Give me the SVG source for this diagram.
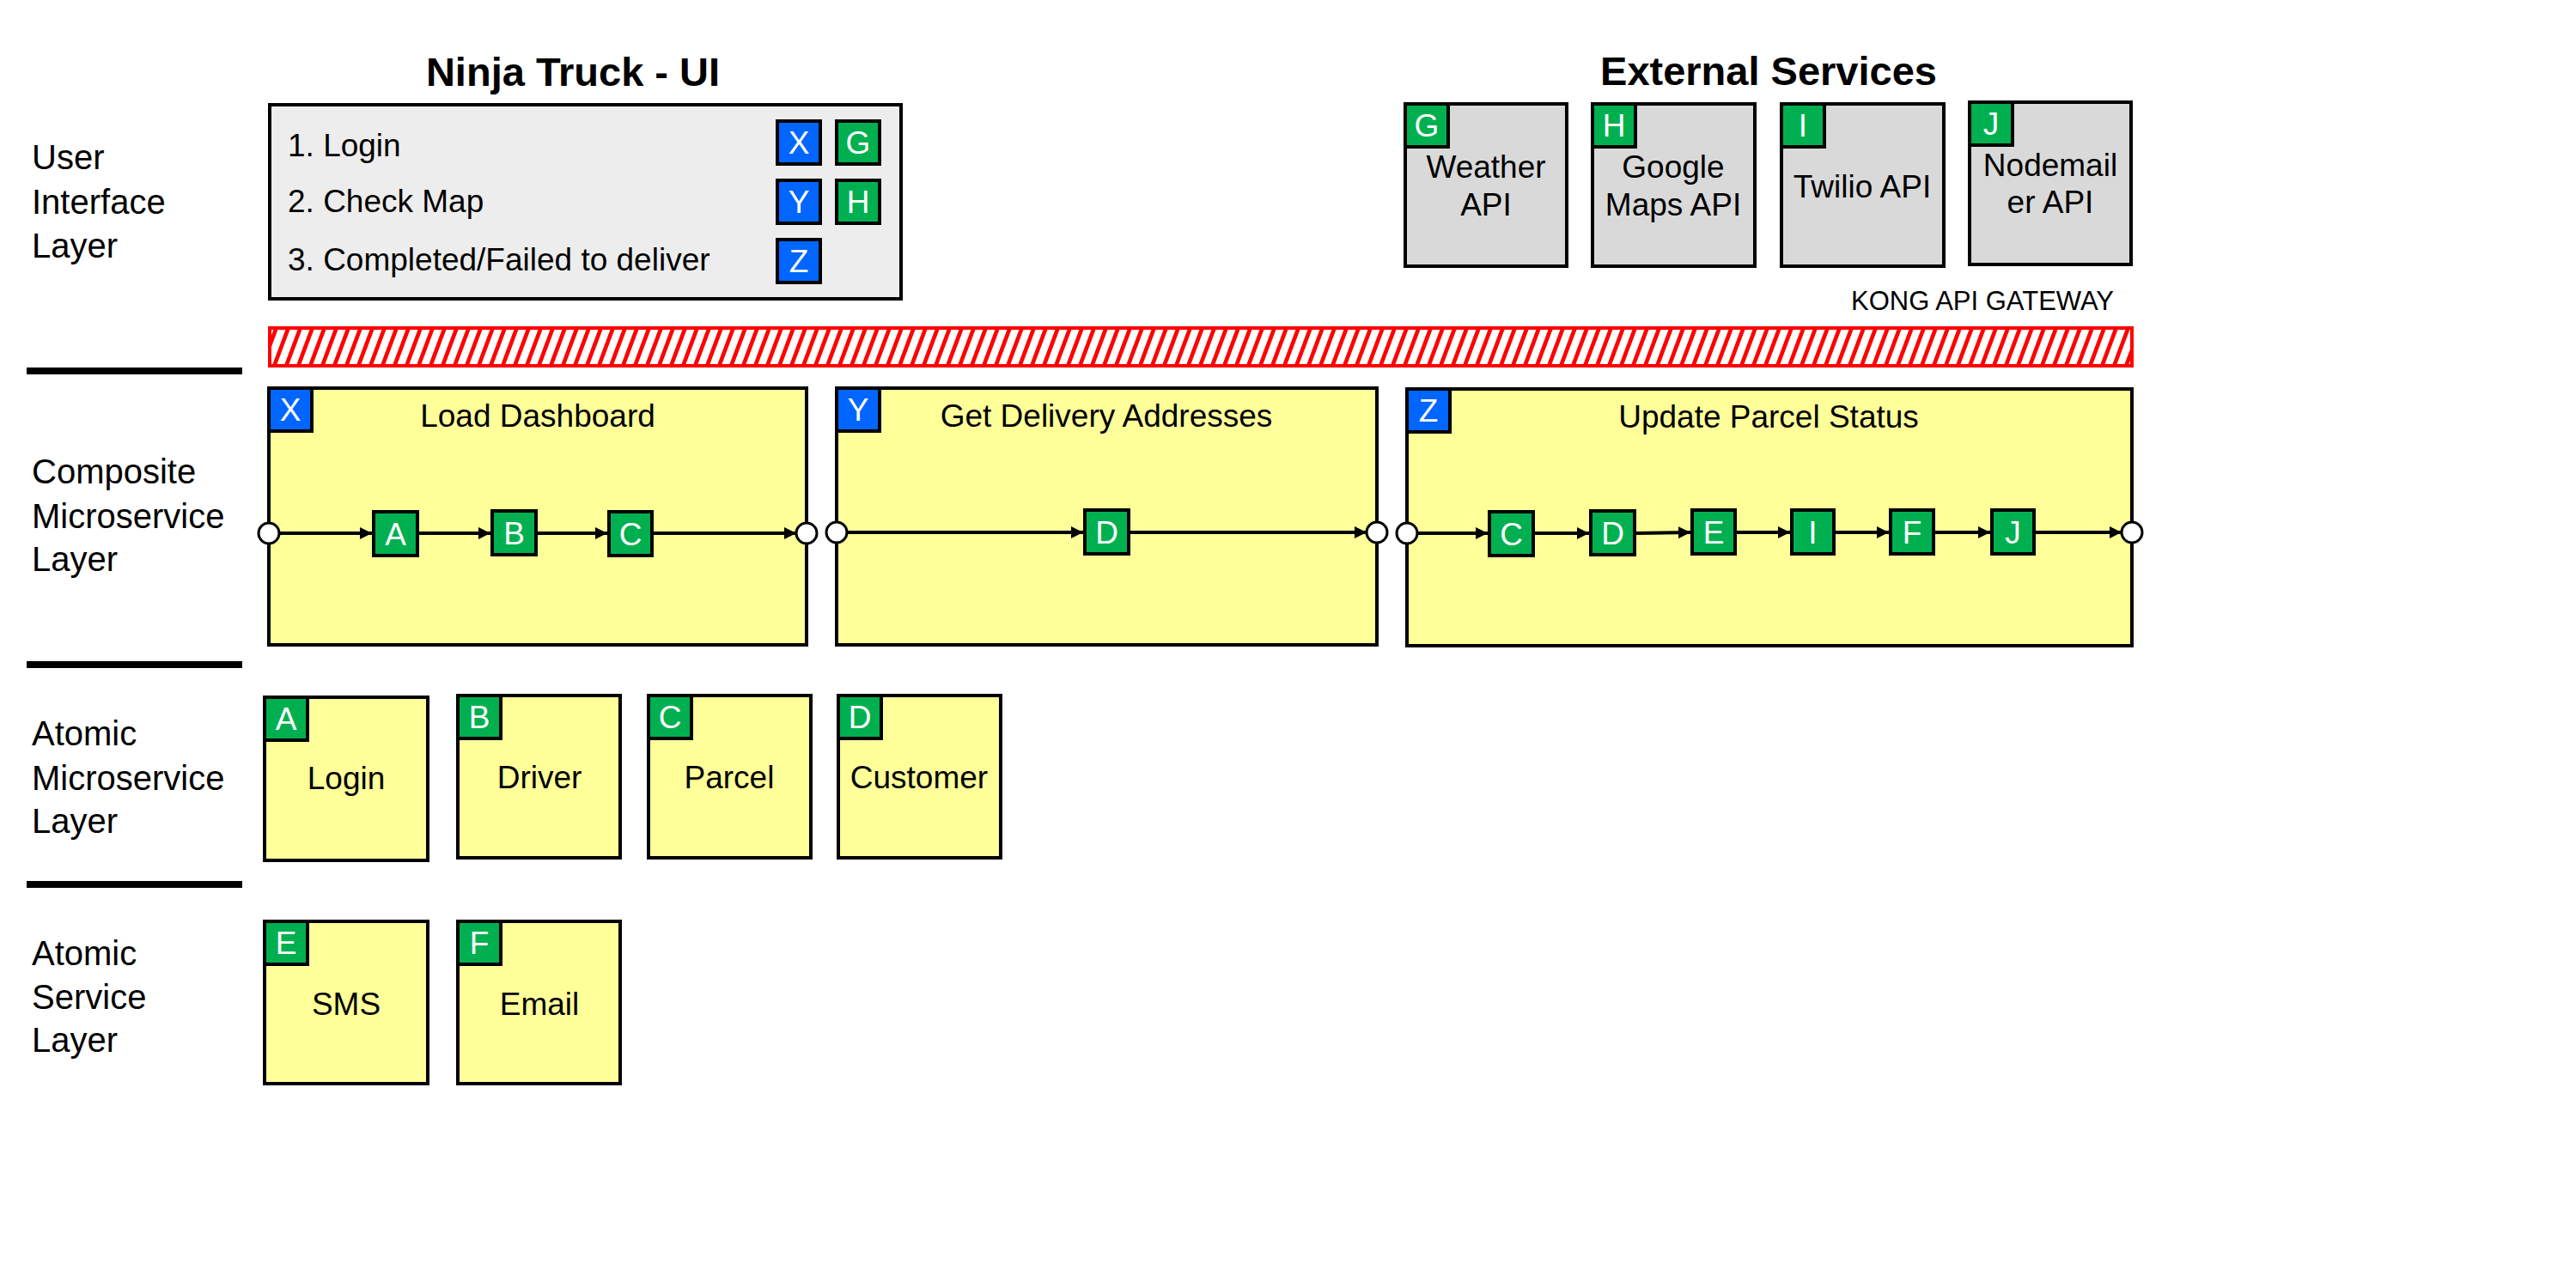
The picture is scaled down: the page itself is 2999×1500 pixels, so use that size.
<svg xmlns="http://www.w3.org/2000/svg" width="2999" height="1500" viewBox="0 0 2999 1500">
<style>
text{font-family:"Liberation Sans",Arial,sans-serif;fill:#000}
.layer{font-size:40px}
.title{font-size:47px;font-weight:bold;text-anchor:middle}
.lbl{font-size:37px}
.mid{text-anchor:middle}
.bdg{font-size:37px;fill:#fff;text-anchor:middle}
.sep{stroke:#000;stroke-width:8}
.yel{fill:#ffff99;stroke:#000;stroke-width:4}
.gry{fill:#d9d9d9;stroke:#000;stroke-width:4}
.g{fill:#00b050;stroke:#000;stroke-width:4}
.b{fill:#0066ff;stroke:#000;stroke-width:4}
.port{fill:#fff;stroke:#000;stroke-width:3}
.conn{stroke:#000;stroke-width:4;fill:none;marker-end:url(#arr)}
</style>
<defs>
<marker id="arr" markerUnits="userSpaceOnUse" markerWidth="16" markerHeight="16" refX="14" refY="7" orient="auto">
<path d="M0,0 L14,7 L0,14 z" fill="#000"/>
</marker>
<pattern id="hatch" patternUnits="userSpaceOnUse" width="14" height="50" patternTransform="skewX(-20.5)">
<rect x="0" y="0" width="14" height="50" fill="#fff"/>
<rect x="0" y="0" width="5" height="50" fill="#ff0000"/>
</pattern>
</defs>
<rect width="2999" height="1500" fill="#fff"/>

<g id="layer-labels">
<text class="layer" x="37" y="197">User</text>
<text class="layer" x="37" y="249">Interface</text>
<text class="layer" x="37" y="300">Layer</text>
<text class="layer" x="37" y="563">Composite</text>
<text class="layer" x="37" y="615">Microservice</text>
<text class="layer" x="37" y="665">Layer</text>
<text class="layer" x="37" y="868">Atomic</text>
<text class="layer" x="37" y="920">Microservice</text>
<text class="layer" x="37" y="970">Layer</text>
<text class="layer" x="37" y="1124">Atomic</text>
<text class="layer" x="37" y="1175">Service</text>
<text class="layer" x="37" y="1225">Layer</text>
<line class="sep" x1="31" y1="432" x2="282" y2="432"/>
<line class="sep" x1="31" y1="774" x2="282" y2="774"/>
<line class="sep" x1="31" y1="1030" x2="282" y2="1030"/>
</g>

<g id="ui">
<text class="title" x="667" y="100">Ninja Truck - UI</text>
<rect x="314" y="122" width="735" height="226" fill="#ededed" stroke="#000" stroke-width="4"/>
<text class="lbl" x="335" y="182">1. Login</text>
<text class="lbl" x="335" y="247">2. Check Map</text>
<text class="lbl" x="335" y="315">3. Completed/Failed to deliver</text>
<rect class="b" x="905" y="141" width="50" height="50"/><text class="bdg" x="930" y="179">X</text>
<rect class="g" x="974" y="141" width="50" height="50"/><text class="bdg" x="999" y="179">G</text>
<rect class="b" x="905" y="210" width="50" height="50"/><text class="bdg" x="930" y="248">Y</text>
<rect class="g" x="974" y="210" width="50" height="50"/><text class="bdg" x="999" y="248">H</text>
<rect class="b" x="905" y="279" width="50" height="50"/><text class="bdg" x="930" y="317">Z</text>
</g>

<g id="external">
<text class="title" x="2059" y="99">External Services</text>
<g id="ext-G">
<rect class="gry" x="1636" y="121" width="188" height="189"/>
<rect class="g" x="1636" y="121" width="50" height="50"/><text class="bdg" x="1661" y="159">G</text>
<text class="lbl mid" x="1730" y="207">Weather</text>
<text class="lbl mid" x="1730" y="251">API</text>
</g>
<g id="ext-H">
<rect class="gry" x="1854" y="121" width="189" height="189"/>
<rect class="g" x="1854" y="121" width="50" height="50"/><text class="bdg" x="1879" y="159">H</text>
<text class="lbl mid" x="1948" y="207">Google</text>
<text class="lbl mid" x="1948" y="251">Maps API</text>
</g>
<g id="ext-I">
<rect class="gry" x="2074" y="121" width="189" height="189"/>
<rect class="g" x="2074" y="121" width="50" height="50"/><text class="bdg" x="2099" y="159">I</text>
<text class="lbl mid" x="2168" y="230">Twilio API</text>
</g>
<g id="ext-J">
<rect class="gry" x="2293" y="119" width="188" height="189"/>
<rect class="g" x="2293" y="119" width="50" height="50"/><text class="bdg" x="2318" y="157">J</text>
<text class="lbl mid" x="2387" y="205">Nodemail</text>
<text class="lbl mid" x="2387" y="248">er API</text>
</g>
</g>

<g id="gateway">
<text x="2461" y="361" font-size="31" text-anchor="end">KONG API GATEWAY</text>
<rect x="314" y="382" width="2168" height="44" fill="url(#hatch)" stroke="#ff0000" stroke-width="4"/>
</g>

<g id="composite-X">
<rect class="yel" x="313" y="452" width="626" height="299"/>
<rect class="b" x="313" y="452" width="50" height="50"/><text class="bdg" x="338" y="490">X</text>
<text class="lbl mid" x="626" y="497">Load Dashboard</text>
</g>
<g id="composite-Y">
<rect class="yel" x="974" y="452" width="629" height="299"/>
<rect class="b" x="974" y="452" width="50" height="50"/><text class="bdg" x="999" y="490">Y</text>
<text class="lbl mid" x="1288" y="497">Get Delivery Addresses</text>
</g>
<g id="composite-Z">
<rect class="yel" x="1638" y="453" width="844" height="299"/>
<rect class="b" x="1638" y="453" width="50" height="50"/><text class="bdg" x="1663" y="491">Z</text>
<text class="lbl mid" x="2059" y="498">Update Parcel Status</text>
</g>

<g id="connectors">
<line class="conn" x1="325" y1="621" x2="433" y2="621"/>
<line class="conn" x1="488" y1="621" x2="571" y2="621"/>
<line class="conn" x1="626" y1="621" x2="707" y2="621"/>
<line class="conn" x1="761" y1="621" x2="927" y2="621"/>
<line class="conn" x1="986" y1="620" x2="1261" y2="620"/>
<line class="conn" x1="1316" y1="620" x2="1591" y2="620"/>
<line class="conn" x1="1650" y1="621" x2="1732" y2="621"/>
<line class="conn" x1="1787" y1="621" x2="1850" y2="621"/>
<line class="conn" x1="1905" y1="621" x2="1968" y2="620"/>
<line class="conn" x1="2022" y1="620" x2="2084" y2="620"/>
<line class="conn" x1="2137" y1="620" x2="2199" y2="620"/>
<line class="conn" x1="2253" y1="620" x2="2317" y2="620"/>
<line class="conn" x1="2370" y1="620" x2="2470" y2="620"/>
</g>

<g id="ports">
<circle class="port" cx="313" cy="621" r="12"/>
<circle class="port" cx="939" cy="621" r="12"/>
<circle class="port" cx="974" cy="620" r="12"/>
<circle class="port" cx="1603" cy="620" r="12"/>
<circle class="port" cx="1638" cy="621" r="12"/>
<circle class="port" cx="2482" cy="620" r="12"/>
</g>

<g id="flow-nodes">
<g id="x-A"><rect class="g" x="435" y="596" width="51" height="51"/><text class="bdg" x="460.5" y="635">A</text></g>
<g id="x-B"><rect class="g" x="573" y="595" width="51" height="51"/><text class="bdg" x="598.5" y="634">B</text></g>
<g id="x-C"><rect class="g" x="709" y="596" width="50" height="51"/><text class="bdg" x="734" y="635">C</text></g>
<g id="y-D"><rect class="g" x="1263" y="594" width="51" height="51"/><text class="bdg" x="1288.5" y="633">D</text></g>
<g id="z-C"><rect class="g" x="1734" y="596" width="51" height="51"/><text class="bdg" x="1759.5" y="635">C</text></g>
<g id="z-D"><rect class="g" x="1852" y="595" width="51" height="51"/><text class="bdg" x="1877.5" y="634">D</text></g>
<g id="z-E"><rect class="g" x="1970" y="594" width="50" height="51"/><text class="bdg" x="1995" y="633">E</text></g>
<g id="z-I"><rect class="g" x="2086" y="594" width="49" height="51"/><text class="bdg" x="2110.5" y="633">I</text></g>
<g id="z-F"><rect class="g" x="2201" y="594" width="50" height="51"/><text class="bdg" x="2226" y="633">F</text></g>
<g id="z-J"><rect class="g" x="2319" y="594" width="49" height="51"/><text class="bdg" x="2343.5" y="633">J</text></g>
</g>

<g id="atomic-A">
<rect class="yel" x="308" y="812" width="190" height="190"/>
<rect class="g" x="308" y="812" width="50" height="50"/><text class="bdg" x="333" y="850">A</text>
<text class="lbl mid" x="403" y="919">Login</text>
</g>
<g id="atomic-B">
<rect class="yel" x="533" y="810" width="189" height="189"/>
<rect class="g" x="533" y="810" width="50" height="50"/><text class="bdg" x="558" y="848">B</text>
<text class="lbl mid" x="628" y="918">Driver</text>
</g>
<g id="atomic-C">
<rect class="yel" x="755" y="810" width="189" height="189"/>
<rect class="g" x="755" y="810" width="50" height="50"/><text class="bdg" x="780" y="848">C</text>
<text class="lbl mid" x="849" y="918">Parcel</text>
</g>
<g id="atomic-D">
<rect class="yel" x="976" y="810" width="189" height="189"/>
<rect class="g" x="976" y="810" width="50" height="50"/><text class="bdg" x="1001" y="848">D</text>
<text class="lbl mid" x="1070" y="918">Customer</text>
</g>
<g id="service-E">
<rect class="yel" x="308" y="1073" width="190" height="189"/>
<rect class="g" x="308" y="1073" width="50" height="50"/><text class="bdg" x="333" y="1111">E</text>
<text class="lbl mid" x="403" y="1182">SMS</text>
</g>
<g id="service-F">
<rect class="yel" x="533" y="1073" width="189" height="189"/>
<rect class="g" x="533" y="1073" width="50" height="50"/><text class="bdg" x="558" y="1111">F</text>
<text class="lbl mid" x="628" y="1182">Email</text>
</g>
</svg>
